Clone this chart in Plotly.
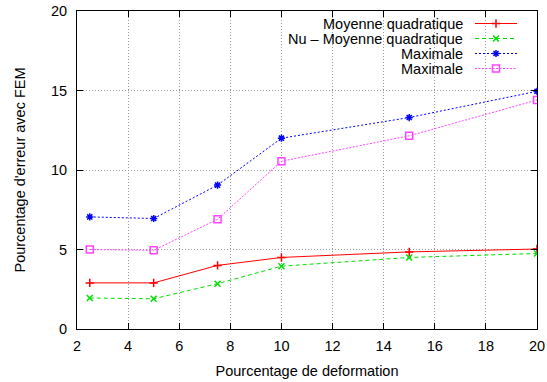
import plotly.graph_objects as go

x_vals = [2.5, 5, 7.5, 10, 15, 20]
moy_quad = [2.9, 2.9, 4.0, 4.5, 4.85, 5.03]
nu_moy_quad = [1.95, 1.9, 2.85, 3.95, 4.5, 4.75]
maximale_1 = [7.05, 6.95, 9.05, 12.0, 13.3, 14.95]
maximale_2 = [5.0, 4.95, 6.9, 10.55, 12.15, 14.4]

names = ["Moyenne quadratique", "Nu \u2013 Moyenne quadratique", "Maximale", "Maximale"]
series = [moy_quad, nu_moy_quad, maximale_1, maximale_2]
colors = ["#ff0000", "#00dd00", "#0000ff", "#ff44ff"]
dashes = ["solid", "4px,3px", "2px,2px", "2px,1.5px"]
symbols = ["cross-thin-open", "x-thin-open", "asterisk-open", "square-open"]
msizes = [6, 6, 6, 7]

FONT = "Liberation Sans, Arial, Helvetica, sans-serif"
FS = 14.5

W, H = 547, 382

fig = go.Figure()
for ys, c, d, s, ms, n in zip(series, colors, dashes, symbols, msizes, names):
    fig.add_trace(go.Scatter(
        x=x_vals, y=ys, mode="lines+markers", name=n,
        line=dict(color=c, width=1, dash=d),
        marker=dict(symbol=s, size=ms, color=c, line=dict(color=c, width=1.5)),
        showlegend=False,
    ))

# Gnuplot-style legend (text left of sample) drawn on a hidden overlay axis in pixel units
leg_y = [23.5, 38.5, 53.5, 68.5]
for ys_, c, d, s, ms, n in zip(leg_y, colors, dashes, symbols, msizes, names):
    fig.add_trace(go.Scatter(
        x=[475, 517], y=[ys_, ys_], mode="lines", xaxis="x2", yaxis="y2",
        line=dict(color=c, width=1, dash=d), showlegend=False, hoverinfo="skip",
    ))
    fig.add_trace(go.Scatter(
        x=[496], y=[ys_], mode="markers", xaxis="x2", yaxis="y2",
        marker=dict(symbol=s, size=ms, color=c, line=dict(color=c, width=1.5)),
        showlegend=False, hoverinfo="skip",
    ))
    fig.add_annotation(
        x=465, y=ys_, xref="x2", yref="y2", text=n, showarrow=False,
        xanchor="right", yanchor="middle", font=dict(size=FS, color="black", family=FONT),
    )

axis_common = dict(
    showline=True, linecolor="black", linewidth=1, mirror="allticks",
    ticks="inside", ticklen=6, tickcolor="black",
    showgrid=True, gridcolor="#9a9a9a", gridwidth=1, griddash="1px,2px",
    zeroline=False, tickfont=dict(size=FS, color="black", family=FONT),
    automargin=False, ticklabeloverflow="allow",
)

fig.update_layout(
    width=W, height=H,
    margin=dict(l=77, r=10, t=11, b=53),
    paper_bgcolor="white", plot_bgcolor="white",
    font=dict(family=FONT, size=FS, color="black"),
    xaxis=dict(range=[2, 20], dtick=2, tick0=0, ticklabelstandoff=4,
               title=dict(text="Pourcentage de deformation", font=dict(size=FS), standoff=12),
               **axis_common),
    yaxis=dict(range=[0, 20], dtick=5, tick0=0, ticklabelstandoff=6,
               title=dict(text="Pourcentage d'erreur avec FEM", font=dict(size=FS), standoff=21),
               **axis_common),
    xaxis2=dict(range=[77, 537], overlaying="x", visible=False, fixedrange=True),
    yaxis2=dict(range=[329, 11], overlaying="y", visible=False, fixedrange=True),
    showlegend=False,
)

fig.write_html(
    "out.html",
    config={"displayModeBar": False},
    post_script="document.body.style.margin='0';document.body.style.overflow='hidden';",
)
